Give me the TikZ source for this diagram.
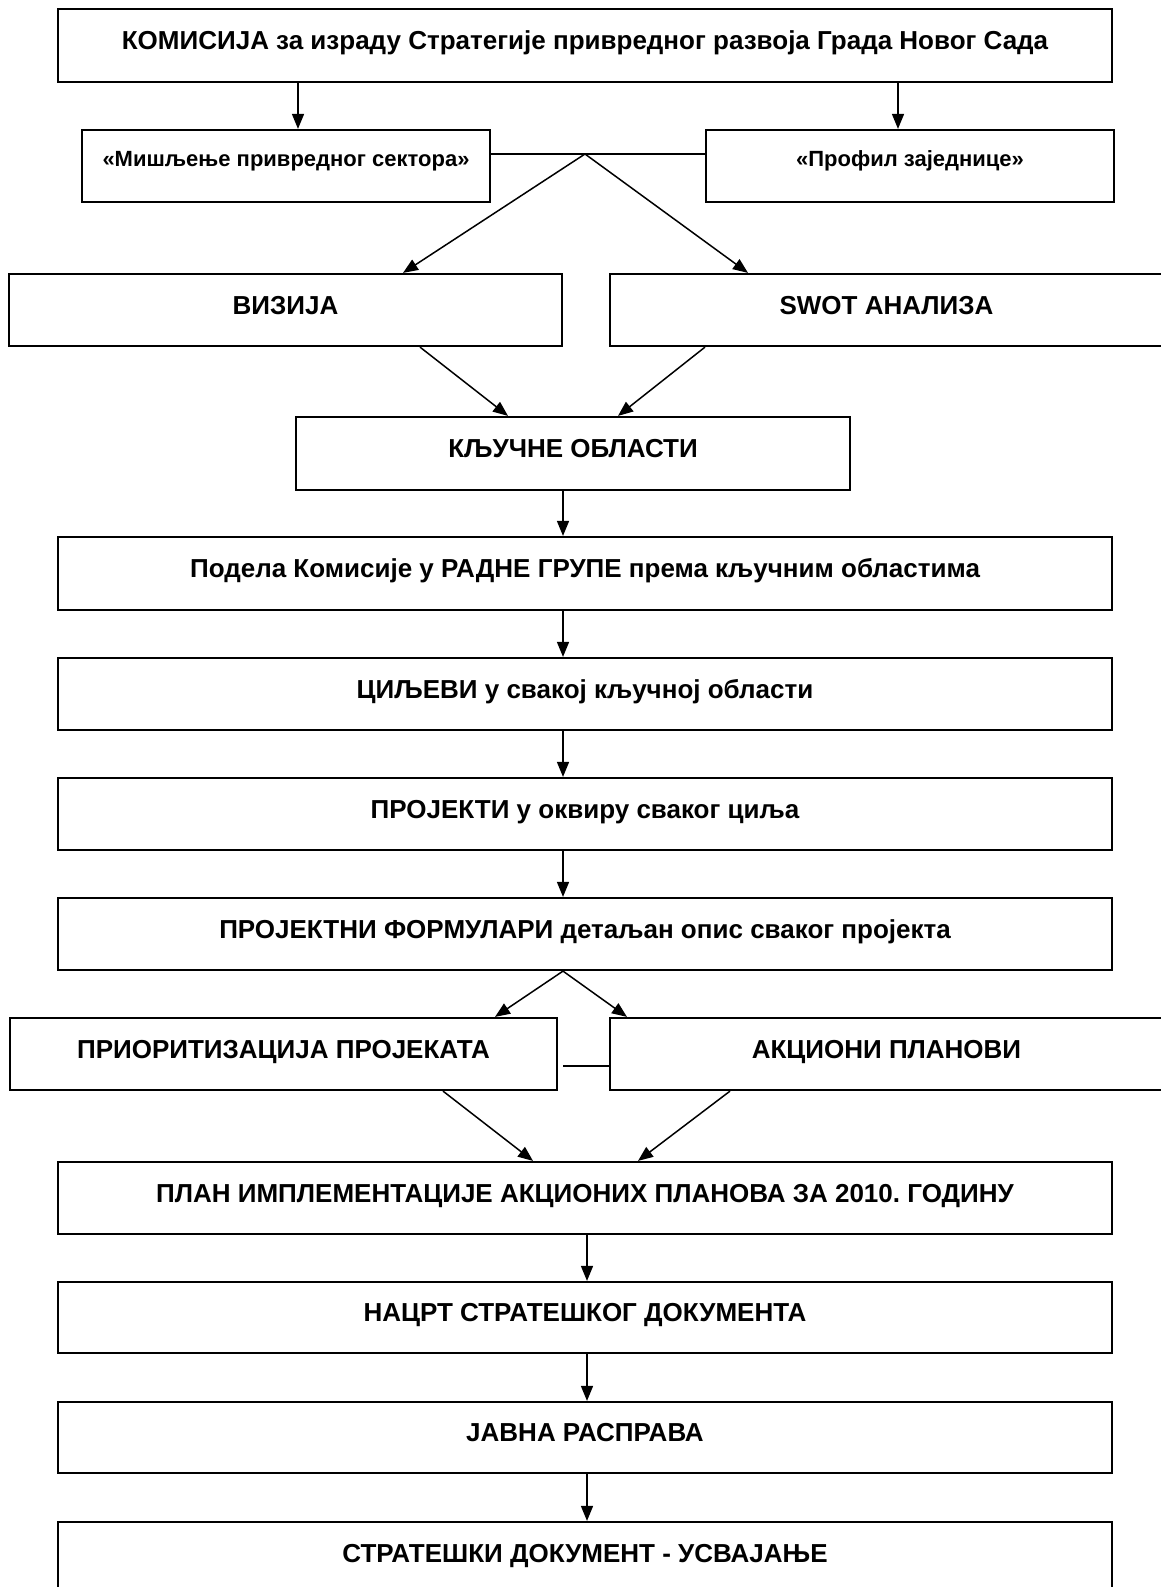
\documentclass[tikz,border=0pt]{standalone}
\usepackage{fontspec}
\setmainfont{Liberation Sans}
\usetikzlibrary{arrows.meta}
\frenchspacing
\tikzset{
  box/.style={draw, line width=2.2pt, inner sep=0pt, text height=20pt, text depth=12pt,
    font=\fontsize{26}{30}\selectfont\bfseries},
  smallbox/.style={box, text height=16pt, text depth=16pt, font=\fontsize{22}{26}\selectfont\bfseries},
  arr/.style={line width=1.5pt, -{Triangle[length=15pt,width=12pt]}},
  link/.style={line width=1.6pt}
}
\begin{document}
\begin{tikzpicture}[x=1pt,y=-1pt]
\useasboundingbox (0,0) rectangle (1161,1587);
% boxes
\node[box, minimum width=1054pt, minimum height=73pt] (kom) at (585,45.5) {КОМИСИЈА за израду Стратегије привредног развоја Града Новог Сада};
\node[smallbox, minimum width=408pt, minimum height=72pt] (mis) at (286,166) {«Мишљење привредног сектора»};
\node[smallbox, minimum width=408pt, minimum height=72pt] (pro) at (910,166) {«Профил заједнице»};
\node[box, minimum width=553pt, minimum height=72pt] (viz) at (285.5,310) {ВИЗИЈА};
\node[box, minimum width=553pt, minimum height=72pt] (swot) at (886.5,310) {SWOT АНАЛИЗА};
\node[box, minimum width=554pt, minimum height=73pt] (klj) at (573,453.5) {КЉУЧНЕ ОБЛАСТИ};
\node[box, minimum width=1054pt, minimum height=73pt] (pod) at (585,573.5) {Подела Комисије у РАДНЕ ГРУПЕ према кључним областима};
\node[box, minimum width=1054pt, minimum height=72pt] (cilj) at (585,694) {ЦИЉЕВИ у свакој кључној области};
\node[box, minimum width=1054pt, minimum height=72pt] (proj) at (585,814) {ПРОЈЕКТИ у оквиру сваког циља};
\node[box, minimum width=1054pt, minimum height=72pt] (form) at (585,934) {ПРОЈЕКТНИ ФОРМУЛАРИ детаљан опис сваког пројекта};
\node[box, minimum width=547pt, minimum height=72pt] (prio) at (283.5,1054) {ПРИОРИТИЗАЦИЈА ПРОЈЕКАТА};
\node[box, minimum width=553pt, minimum height=72pt] (akc) at (886.5,1054) {АКЦИОНИ ПЛАНОВИ};
\node[box, minimum width=1054pt, minimum height=72pt] (plan) at (585,1198) {ПЛАН ИМПЛЕМЕНТАЦИЈЕ АКЦИОНИХ ПЛАНОВА ЗА 2010. ГОДИНУ};
\node[box, minimum width=1054pt, minimum height=71pt] (nacrt) at (585,1317.5) {НАЦРТ СТРАТЕШКОГ ДОКУМЕНТА};
\node[box, minimum width=1054pt, minimum height=71pt] (javna) at (585,1437.5) {ЈАВНА РАСПРАВА};
\node[box, minimum width=1054pt, minimum height=72pt] (strat) at (585,1558) {СТРАТЕШКИ ДОКУМЕНТ - УСВАЈАЊЕ};
% connectors
\coordinate (J) at (585,154);
\draw[arr] (kom.south -| 298,0) -- (mis.north -| 298,0);
\draw[arr] (kom.south -| 898,0) -- (pro.north -| 898,0);
\draw[link] (mis.east |- J) -- (pro.west |- J);
\draw[arr] (J) -- (viz.north -| 403,0);
\draw[arr] (J) -- (swot.north -| 748,0);
\draw[arr] (viz.south -| 420,0) -- (klj.north -| 508,0);
\draw[arr] (swot.south -| 705,0) -- (klj.north -| 618,0);
\draw[arr] (klj.south -| 563,0) -- (pod.north -| 563,0);
\draw[arr] (pod.south -| 563,0) -- (cilj.north -| 563,0);
\draw[arr] (cilj.south -| 563,0) -- (proj.north -| 563,0);
\draw[arr] (proj.south -| 563,0) -- (form.north -| 563,0);
\draw[arr] (form.south -| 563,0) -- (prio.north -| 495,0);
\draw[arr] (form.south -| 563,0) -- (akc.north -| 627,0);
\draw[link] (prio.east |- 0,1066) ++(5,0) -- (akc.west |- 0,1066);
\draw[arr] (prio.south -| 443,0) -- (plan.north -| 533,0);
\draw[arr] (akc.south -| 730,0) -- (plan.north -| 638,0);
\draw[arr] (plan.south -| 587,0) -- (nacrt.north -| 587,0);
\draw[arr] (nacrt.south -| 587,0) -- (javna.north -| 587,0);
\draw[arr] (javna.south -| 587,0) -- (strat.north -| 587,0);
\end{tikzpicture}
\end{document}
